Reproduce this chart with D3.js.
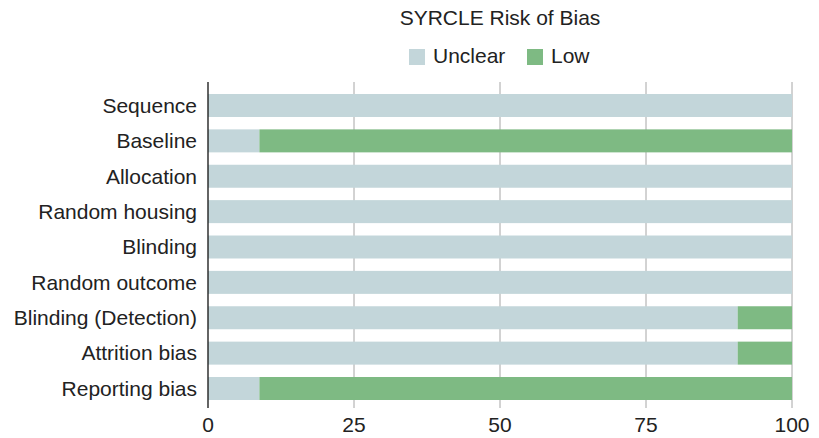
<!DOCTYPE html>
<html>
<head>
<meta charset="utf-8">
<script src="https://cdn.jsdelivr.net/npm/d3@7"></script>
<style>
  html, body { margin: 0; padding: 0; background: #fff; }
  svg { display: block; font-family: "Liberation Sans", Arial, Helvetica, sans-serif; }
</style>
</head>
<body>
<svg id="chart" width="819" height="438"></svg>
<script>
// SYRCLE risk-of-bias domains (percent of studies)
const domains = ["Sequence", "Baseline", "Allocation", "Random housing", "Blinding",
  "Random outcome", "Blinding (Detection)", "Attrition bias", "Reporting bias"];
const unclear = [100, 8.8, 100, 100, 100, 100, 90.7, 90.7, 8.8];
const low     = [0, 91.2, 0, 0, 0, 0, 9.3, 9.3, 91.2];
const seriesNames = ["Unclear", "Low"];
const seriesColors = ["#c3d6da", "#7eba83"];
const xTicks = [0, 25, 50, 75, 100];

const svg = d3.select("#chart");
const W = 819;
const FS = 21;

const x = d3.scaleLinear().domain([0, 100]).range([208, 792]);
const y = d3.scaleBand().domain(domains).range([94, 400]).paddingInner(0.35).paddingOuter(0);

// vertical grid lines
svg.append("g").selectAll("line").data(xTicks.slice(1)).join("line")
  .attr("x1", d => x(d)).attr("x2", d => x(d))
  .attr("y1", 82).attr("y2", 408)
  .attr("stroke", "#a6a6a6").attr("stroke-width", 1);

// stacked bars
const rows = domains.map((d, i) => ({ domain: d, Unclear: unclear[i], Low: low[i] }));
const stacked = d3.stack().keys(seriesNames)(rows);
svg.append("g").selectAll("g").data(stacked).join("g")
  .attr("fill", (d, i) => seriesColors[i])
  .selectAll("rect").data(d => d).join("rect")
  .attr("x", d => x(d[0]))
  .attr("width", d => x(d[1]) - x(d[0]))
  .attr("y", d => y(d.data.domain))
  .attr("height", y.bandwidth());

// y axis line and category labels
svg.append("line").attr("x1", x(0)).attr("x2", x(0)).attr("y1", 82).attr("y2", 408)
  .attr("stroke", "#111").attr("stroke-width", 1.3);
svg.append("g").selectAll("text").data(domains).join("text")
  .attr("x", 197).attr("y", d => y(d) + y.bandwidth() / 2)
  .attr("dy", "0.35em").attr("text-anchor", "end")
  .attr("font-size", FS).attr("fill", "#222").text(d => d);

// x tick labels
svg.append("g").selectAll("text").data(xTicks).join("text")
  .attr("x", d => x(d)).attr("y", 432)
  .attr("text-anchor", "middle").attr("font-size", FS).attr("fill", "#222")
  .text(d => d);

// title
svg.append("text").attr("x", 500).attr("y", 25).attr("text-anchor", "middle")
  .attr("font-size", FS).attr("fill", "#222").text("SYRCLE Risk of Bias");

// legend
const legendX = [409, 527];
const lg = svg.append("g").selectAll("g").data(seriesNames).join("g")
  .attr("transform", (d, i) => `translate(${legendX[i]},49)`);
lg.append("rect").attr("width", 16).attr("height", 16).attr("fill", (d, i) => seriesColors[i]);
lg.append("text").attr("x", 24).attr("y", 13.5)
  .attr("font-size", FS).attr("fill", "#222").text(d => d);
</script>
</body>
</html>
